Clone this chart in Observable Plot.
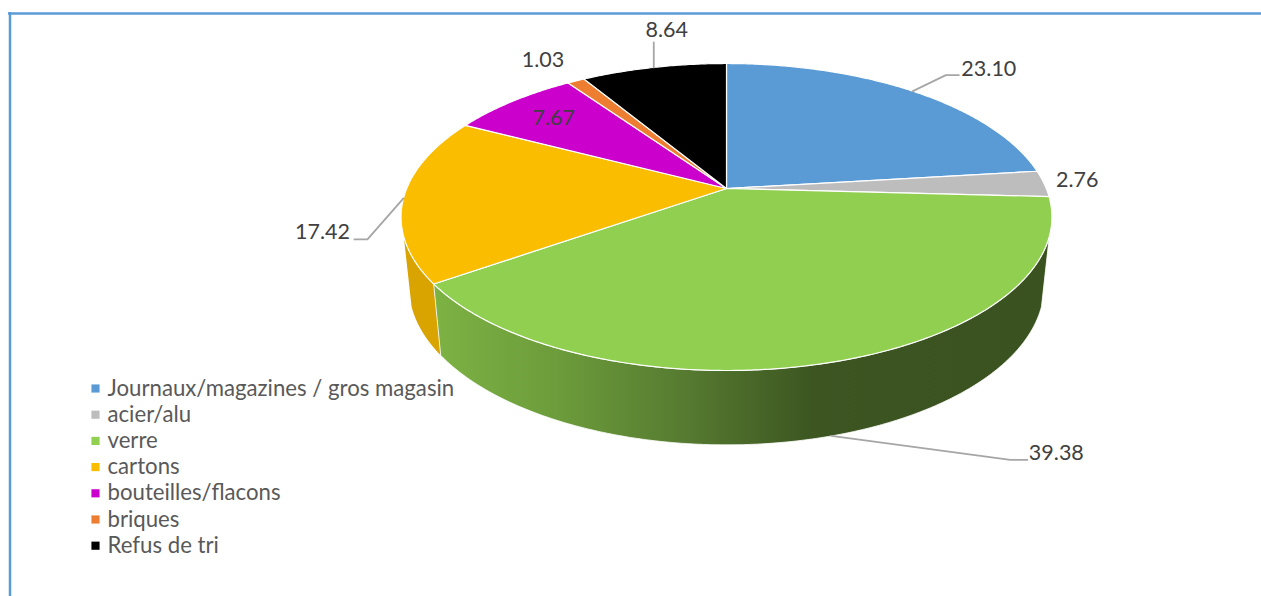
<!DOCTYPE html>
<html>
<head>
<meta charset="utf-8">
<style>
html,body{margin:0;padding:0;background:#fff;overflow:hidden}
svg{display:block}
</style>
<script src="https://cdn.jsdelivr.net/npm/d3@7"></script>
<script src="https://cdn.jsdelivr.net/npm/@observablehq/plot@0.6"></script>
</head>
<body>
<script>
// ---- Data
const categories = ["Journaux/magazines / gros magasin","acier/alu","verre","cartons","bouteilles/flacons","briques","Refus de tri"];
const values = [23.10, 2.76, 39.38, 17.42, 7.67, 1.03, 8.64];
const colors = ["#5B9BD5","#BDBDBD","#90CF50","#FBBD00","#CC00CC","#ED7D31","#000000"];

// ---- Layout (pie seen in perspective)
const W = 1261, H = 596;
const pie = {cx:726, cy:188, a:319.8, b:148.2, p:0.1857, shrink:0.976, drop:68, stretch:1.035};
const wallFront = {start:108, end:252};
// Label offsets from each slice's anchor point, in px
const labelPlace = [
  {dx:76, dy:-22, elbow:[[33,-16],[46,-16]]},
  {dx:33, dy:-4},
  {dx:225, dy:17, elbow:[[179,24],[196,24]], low:true},
  {dx:-81, dy:34, elbow:[[-36,41],[-49,41]]},
  {r:0.79},
  {dx:-33, dy:-21},
  {dx:13, dy:-37, elbow:[[0,-25]]}
];

// Projection of a point of the unit disc onto the picture
function topAt(deg, r = 1) {
  const t = deg * Math.PI / 180, u = r * Math.sin(t), v = r * Math.cos(t), w = 1 + pie.p * v;
  return [pie.cx + pie.a * u / w, pie.cy - pie.b * v / w];
}
function bottomAt(deg) {
  const [x, y] = topAt(deg);
  return [pie.cx + pie.shrink * (x - pie.cx), pie.cy + pie.drop + pie.stretch * (y - pie.cy)];
}
const total = d3.sum(values);
const edges = d3.cumsum(values).map(c => c / total * 360);
const spans = values.map((_, i) => [i ? edges[i - 1] : 0, edges[i]]);
const arc = (a, b) => { const n = Math.max(2, Math.ceil(Math.abs(b - a) * 2)); return d3.range(n + 1).map(i => a + (b - a) * i / n); };

// Top face polygons
const topFace = categories.flatMap((category, i) => {
  const [a, b] = spans[i];
  return [[pie.cx, pie.cy], ...arc(a, b).map(d => topAt(d))].map(([x, y]) => ({category, x, y}));
});
// Outer wall polygons
const wallPoly = (a, b, id) => [...arc(a, b).map(d => topAt(d)), ...arc(b, a).map(d => bottomAt(d))].map(([x, y]) => ({id, x, y}));
const greenWall = wallPoly(wallFront.start, spans[2][1], "verre");
const amberWall = wallPoly(spans[3][0], wallFront.end, "cartons");

// Labels + leaders
const labels = [], leaders = [];
values.forEach((value, i) => {
  const mid = (spans[i][0] + spans[i][1]) / 2, pl = labelPlace[i];
  const text = value.toFixed(2);
  if (pl.r) { const [x, y] = topAt(mid, pl.r); labels.push({text, x, y}); return; }
  const [ax, ay] = pl.low ? bottomAt(mid) : topAt(mid);
  labels.push({text, x: ax + pl.dx, y: ay + pl.dy});
  if (pl.elbow) [[0, 0], ...pl.elbow].forEach(([dx, dy]) => leaders.push({text, x: ax + dx, y: ay + dy}));
});

const legendRows = categories.map((category, i) => ({category, y: 388 + 26.2 * i}));

const gradient = () => {
  const defs = d3.create("svg:defs");
  const g = defs.append("linearGradient").attr("id", "greenWallGrad").attr("x1", 0).attr("x2", 1).attr("y1", 0).attr("y2", 0);
  [[0, "#7DB244"], [0.2, "#6C9C3B"], [0.4, "#577C31"], [0.62, "#3C5521"], [1, "#3A5220"]].forEach(([o, c]) => g.append("stop").attr("offset", o).attr("stop-color", c));
  return defs.node();
};

const chart = Plot.plot({
  width: W, height: H, margin: 0,
  style: {background: "#fff", fontFamily: "Lato, sans-serif"},
  x: {domain: [0, W], range: [0, W], axis: null},
  y: {domain: [0, H], range: [0, H], axis: null},
  color: {type: "ordinal", domain: categories, range: colors},
  marks: [
    gradient,
    // frame
    Plot.ruleX([9.5], {y1: 12, y2: H, stroke: "#5B9BD5", strokeWidth: 2.5}),
    Plot.ruleY([13], {x1: 8, x2: W, stroke: "#5B9BD5", strokeWidth: 2.5}),
    // walls
    Plot.line(amberWall, {x: "x", y: "y", z: "id", curve: "linear-closed", fill: () => "#D9A300", stroke: "none"}),
    Plot.line(greenWall, {x: "x", y: "y", z: "id", curve: "linear-closed", fill: "url(#greenWallGrad)", stroke: "#fff", strokeWidth: 0.8}),
    // top face
    Plot.line(topFace, {x: "x", y: "y", z: "category", curve: "linear-closed", fill: "category", stroke: "#fff", strokeWidth: 1.2, strokeLinejoin: "round"}),
    // leaders
    Plot.line(leaders, {x: "x", y: "y", z: "text", stroke: "#A6A6A6", strokeWidth: 1.8}),
    // value labels
    Plot.text(labels, {x: "x", y: "y", text: "text", fill: "#404040", fontSize: 21.5, textAnchor: "middle"}),
    // legend
    Plot.dot(legendRows, {x: () => 95, y: "y", symbol: "square", r: 4.6, fill: "category", stroke: "none"}),
    Plot.text(legendRows, {x: () => 107, y: "y", text: "category", fill: "#595959", fontSize: 22.2, textAnchor: "start"})
  ]
});
document.body.appendChild(chart);
</script>
</body>
</html>
